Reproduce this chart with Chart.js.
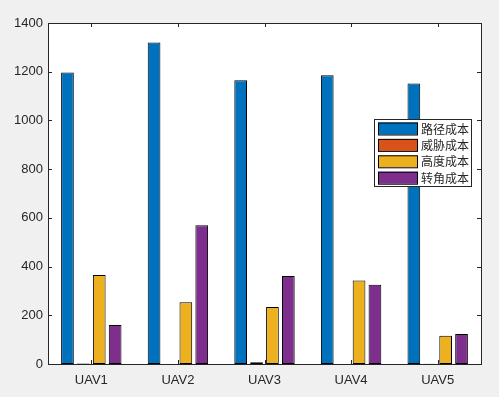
<!DOCTYPE html>
<html>
<head>
<meta charset="utf-8">
<script src="https://cdn.jsdelivr.net/npm/chart.js@4/dist/chart.umd.min.js"></script>
<style>
  html, body { margin: 0; padding: 0; background: #f0f0f0; }
  #wrap { width: 499px; height: 397px; }
</style>
</head>
<body>
<div id="wrap"><canvas id="cost-chart" width="499" height="397"></canvas></div>
<script>
const uavs = ["UAV1", "UAV2", "UAV3", "UAV4", "UAV5"];
const seriesNames = ["路径成本", "威胁成本", "高度成本", "转角成本"];
const pathCost = [1197, 1320, 1165, 1185, 1152];
const threatCost = [2, 0, 7, 0, 1];
const heightCost = [365, 254, 234, 343, 116];
const turnCost = [160, 570, 361, 325, 123];
const yTicks = [0, 200, 400, 600, 800, 1000, 1200, 1400];

const colors = ["#0072BD", "#D95319", "#EDB120", "#7E2F8E"];
const axisColor = "#262626";

// Figure background, white axes area, box + inward ticks like MATLAB
const matlabAxes = {
  id: "matlabAxes",
  beforeDraw(chart) {
    const { ctx, chartArea: a } = chart;
    ctx.save();
    ctx.fillStyle = "#f0f0f0";
    ctx.fillRect(0, 0, chart.width, chart.height);
    ctx.fillStyle = "#ffffff";
    ctx.fillRect(a.left, a.top, a.right - a.left, a.bottom - a.top);
    ctx.restore();
  },
  afterDatasetsDraw(chart) {
    const { ctx, chartArea: a, scales } = chart;
    ctx.save();
    ctx.strokeStyle = axisColor;
    ctx.lineWidth = 1;
    ctx.beginPath();
    scales.x.ticks.forEach((t, i) => {
      const x = Math.round(scales.x.getPixelForTick(i)) + 0.5;
      ctx.moveTo(x, a.bottom); ctx.lineTo(x, a.bottom - 4);
      ctx.moveTo(x, a.top); ctx.lineTo(x, a.top + 4);
    });
    scales.y.ticks.forEach((t, i) => {
      const y = Math.round(scales.y.getPixelForTick(i)) + 0.5;
      ctx.moveTo(a.left, y); ctx.lineTo(a.left + 4, y);
      ctx.moveTo(a.right, y); ctx.lineTo(a.right - 4, y);
    });
    ctx.stroke();
    ctx.strokeRect(Math.round(a.left) + 0.5, Math.round(a.top) + 0.5,
      Math.round(a.right - a.left), Math.round(a.bottom - a.top));

    // Legend box inside the axes
    const lx = 374, ly = 119, lw = 97, lh = 67;
    ctx.fillStyle = "#ffffff";
    ctx.fillRect(lx, ly, lw, lh);
    ctx.strokeStyle = axisColor;
    ctx.strokeRect(lx + 0.5, ly + 0.5, lw, lh);
    ctx.font = "12px 'Noto Sans CJK SC'";
    ctx.textBaseline = "middle";
    chart.data.datasets.forEach((ds, i) => {
      const y = ly + 3.5 + i * 16.4;
      ctx.fillStyle = ds.backgroundColor;
      ctx.fillRect(lx + 4, y, 40, 12);
      ctx.strokeStyle = "#000";
      ctx.strokeRect(lx + 4.5, y + 0.5, 39, 12);
      ctx.fillStyle = axisColor;
      ctx.fillText(ds.label, lx + 47, y + 6.5);
    });
    ctx.restore();
  },
};

const ctx = document.getElementById("cost-chart").getContext("2d");
const costChart = new Chart(ctx, {
  type: "bar",
  data: {
    labels: uavs,
    datasets: [pathCost, threatCost, heightCost, turnCost].map((values, i) => ({
      label: seriesNames[i],
      data: values,
      backgroundColor: colors[i],
      borderColor: "#000000",
      borderWidth: 1,
      borderSkipped: false,
      categoryPercentage: 0.734,
      barPercentage: 0.8,
    })),
  },
  options: {
    responsive: false,
    animation: false,
    layout: { padding: { top: 23, right: 18, left: 0, bottom: 0 } },
    plugins: {
      legend: { display: false },
      tooltip: { enabled: false },
    },
    scales: {
      x: {
        grid: { display: false, drawTicks: false },
        border: { display: false },
        ticks: {
          color: axisColor,
          padding: 9,
          font: { family: "'Liberation Sans', Arial", size: 13 },
        },
        afterFit(scale) { scale.height = 33; },
      },
      y: {
        min: 0,
        max: 1400,
        grid: { display: false, drawTicks: false },
        border: { display: false },
        afterBuildTicks(scale) {
          scale.ticks = yTicks.map((v) => ({ value: v }));
        },
        ticks: {
          color: axisColor,
          padding: 5,
          font: { family: "'Liberation Sans', Arial", size: 13 },
          callback: (v) => String(v),
        },
        afterFit(scale) { scale.width = 48; },
      },
    },
  },
  plugins: [matlabAxes],
});
</script>
</body>
</html>
